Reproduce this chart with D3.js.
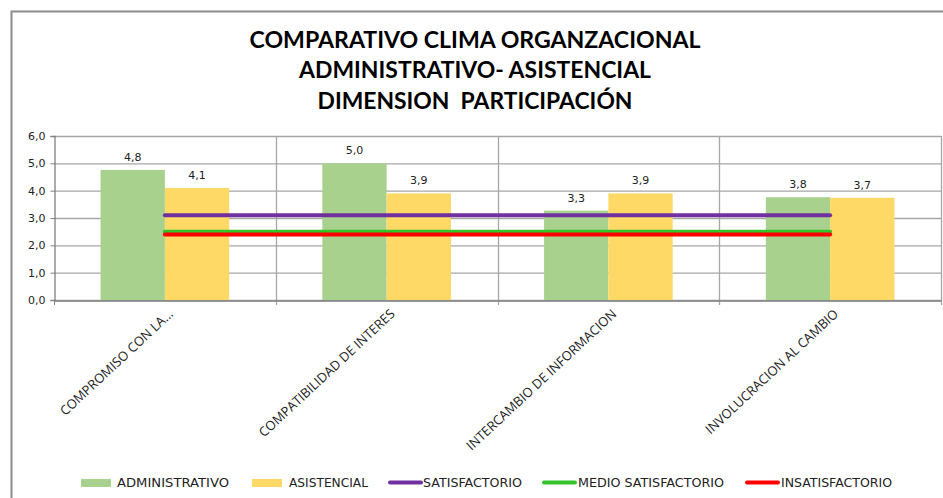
<!DOCTYPE html>
<html><head><meta charset="utf-8">
<script src="https://cdn.jsdelivr.net/npm/d3@7"></script>
<style>body{margin:0;background:#fff}svg{display:block}text{white-space:pre}</style>
</head><body>
<svg id="c" width="943" height="498"></svg>
<script>
const titleLines = ["COMPARATIVO CLIMA ORGANZACIONAL","ADMINISTRATIVO- ASISTENCIAL","DIMENSION  PARTICIPACIÓN"];
const categories = ["COMPROMISO CON LA...","COMPATIBILIDAD DE INTERES","INTERCAMBIO DE INFORMACION","INVOLUCRACION AL CAMBIO"];
const administrativo = [4.76, 5.0, 3.27, 3.76];
const asistencial = [4.1, 3.9, 3.9, 3.74];
const satisfactorio = [3.1, 3.1, 3.1, 3.1];
const medioSatisfactorio = [2.5, 2.5, 2.5, 2.5];
const insatisfactorio = [2.4, 2.4, 2.4, 2.4];
const yTicks = [0,1,2,3,4,5,6];
const seriesNames = ["ADMINISTRATIVO","ASISTENCIAL","SATISFACTORIO","MEDIO SATISFACTORIO","INSATISFACTORIO"];

const svg = d3.select("#c");
const W=943,H=498;
const L=54,R=941,T=136,B=300;
const font="'DejaVu Sans', Verdana, sans-serif";

// chart border
svg.append("path").attr("d",`M11.5,${H} V11.5 H943`).attr("fill","none").attr("stroke","#8c8c8c").attr("stroke-width",2);

// title
const titleW=[451,352,315], titleY=[48,78,109];
titleLines.forEach((t,i)=>{
  svg.append("text").attr("x",475).attr("y",titleY[i]).attr("text-anchor","middle")
    .attr("font-family","Lato, 'Open Sans', sans-serif").attr("font-weight","bold").attr("font-size",22)
    .attr("textLength",titleW[i]).attr("lengthAdjust","spacingAndGlyphs")
    .attr("fill","#000").text(t);
});

const x = d3.scaleBand().domain(categories).range([L,R]).paddingInner(0).paddingOuter(0);
const y = d3.scaleLinear().domain([0,6]).range([B,T]);
const bw = x.bandwidth();
const barW = bw*0.29;

// horizontal gridlines
svg.append("g").selectAll("line").data(yTicks).join("line")
  .attr("x1",L).attr("x2",R).attr("y1",d=>y(d)+0.5).attr("y2",d=>y(d)+0.5)
  .attr("stroke","#a6a6a6").attr("stroke-width",1.3);
// vertical gridlines at category boundaries
const bounds = categories.map(c=>x(c)).concat([R]);
svg.append("g").selectAll("line").data(bounds.slice(1)).join("line")
  .attr("x1",d=>Math.round(d)+0.5).attr("x2",d=>Math.round(d)+0.5).attr("y1",T).attr("y2",B+5)
  .attr("stroke","#a6a6a6").attr("stroke-width",1.3);

// y axis
const yAxis = d3.axisLeft(y).tickValues(yTicks).tickSize(4).tickFormat(d=>d3.format(".1f")(d).replace(".",","));
const ya = svg.append("g").attr("transform",`translate(${L+0.5},0)`).call(yAxis);
ya.select(".domain").attr("stroke","#808080").attr("stroke-width",1.3);
ya.selectAll(".tick line").attr("stroke","#808080");
ya.selectAll("text").attr("font-family",font).attr("font-size",11).attr("fill","#222").attr("x",-9);

// x axis
const xa = svg.append("g").attr("transform",`translate(0,${B+0.5})`)
  .call(d3.axisBottom(x).tickSize(0).tickFormat(""));
xa.select(".domain").attr("stroke","#808080").attr("stroke-width",1.3);
svg.append("line").attr("x1",L+0.5).attr("x2",L+0.5).attr("y1",B).attr("y2",B+5).attr("stroke","#808080");

// bars
const cx = c => x(c)+bw/2;
svg.append("g").selectAll("rect").data(categories).join("rect")
  .attr("x",c=>cx(c)-barW).attr("width",barW)
  .attr("y",(c,i)=>y(administrativo[i])).attr("height",(c,i)=>B-y(administrativo[i]))
  .attr("fill","#a9d18e");
svg.append("g").selectAll("rect").data(categories).join("rect")
  .attr("x",c=>cx(c)).attr("width",barW)
  .attr("y",(c,i)=>y(asistencial[i])).attr("height",(c,i)=>B-y(asistencial[i]))
  .attr("fill","#ffd966");

// lines
const lineGen = d3.line().x((d,i)=>cx(categories[i])).y(d=>y(d));
[[satisfactorio,"#7030a0"],[medioSatisfactorio,"#33c42a"],[insatisfactorio,"#ff0000"]].forEach(([s,col])=>{
  svg.append("path").attr("d",lineGen(s)).attr("fill","none").attr("stroke",col).attr("stroke-width",4).attr("stroke-linecap","round");
});

// value labels
const fmt = v=>d3.format(".1f")(v).replace(".",",");
svg.append("g").selectAll("text").data(categories).join("text")
  .attr("x",c=>cx(c)-barW/2).attr("y",(c,i)=>y(administrativo[i])-9)
  .attr("text-anchor","middle").attr("font-family",font).attr("font-size",11).attr("fill","#222")
  .text((c,i)=>fmt(administrativo[i]));
svg.append("g").selectAll("text").data(categories).join("text")
  .attr("x",c=>cx(c)+barW/2).attr("y",(c,i)=>y(asistencial[i])-9)
  .attr("text-anchor","middle").attr("font-family",font).attr("font-size",11).attr("fill","#222")
  .text((c,i)=>fmt(asistencial[i]));

// category labels
svg.append("g").selectAll("text").data(categories).join("text")
  .attr("transform",c=>`translate(${cx(c)+9},${B+15}) rotate(-43)`)
  .attr("text-anchor","end").attr("font-family","'Open Sans', sans-serif").attr("font-size",13).attr("fill","#222")
  .text(c=>c);

// legend
const legend = [
  {type:"rect",color:"#a9d18e",x:81,tx:117,w:112},
  {type:"rect",color:"#ffd966",x:252,tx:289,w:79},
  {type:"line",color:"#7030a0",x:389,tx:423,w:99},
  {type:"line",color:"#33c42a",x:543,tx:578,w:146},
  {type:"line",color:"#ff0000",x:746,tx:781,w:111}
];
const lg = svg.append("g");
legend.forEach((d,i)=>{
  if(d.type==="rect") lg.append("rect").attr("x",d.x).attr("y",479).attr("width",30).attr("height",8).attr("fill",d.color);
  else lg.append("line").attr("x1",d.x+1).attr("x2",d.x+32).attr("y1",482.5).attr("y2",482.5).attr("stroke",d.color).attr("stroke-width",4).attr("stroke-linecap","round");
  lg.append("text").attr("x",d.tx).attr("y",487).attr("font-family",font).attr("font-size",12)
    .attr("textLength",d.w).attr("lengthAdjust","spacingAndGlyphs").attr("fill","#222").text(seriesNames[i]);
});
</script>
</body></html>
